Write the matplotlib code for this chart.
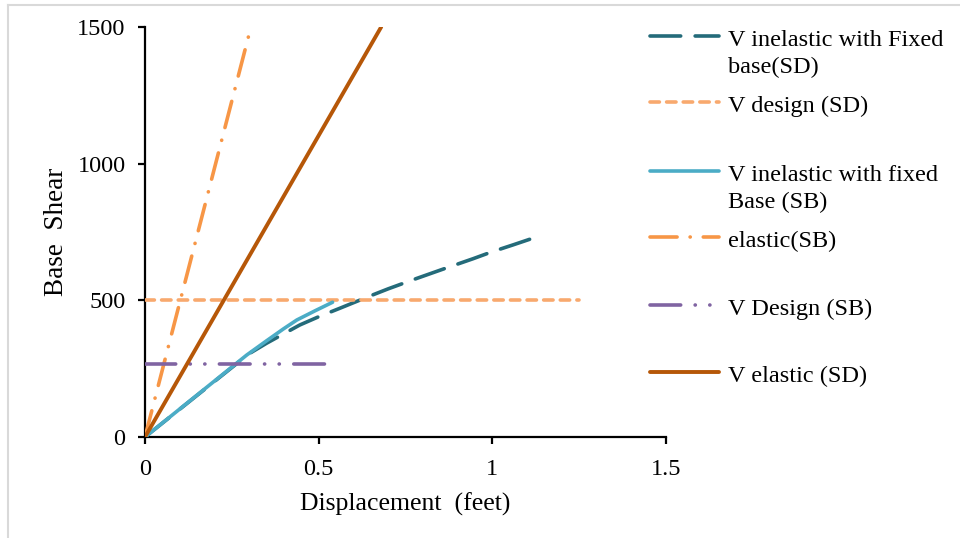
import matplotlib
matplotlib.use("Agg")
import matplotlib.pyplot as plt
from matplotlib.lines import Line2D

plt.rcParams["font.family"] = ["Liberation Serif", "DejaVu Serif"]

# data
fixed_sd_x = [0, 0.30, 0.35, 0.40, 0.446, 0.50, 0.561, 0.648, 0.70, 0.782, 0.86, 0.944, 1.0, 1.06, 1.13]
fixed_sd_y = [0, 305, 343, 378, 410, 440, 471, 516, 542, 580, 615, 652, 678, 703, 733]

design_sd_x = [0, 1.25]
design_sd_y = [500, 500]

fixed_sb_x = [0, 0.167, 0.293, 0.35, 0.398, 0.437, 0.49, 0.54]
fixed_sb_y = [0, 171, 300, 352, 395, 428, 462, 493]

elastic_sb_x = [0, 0.305]
elastic_sb_y = [0, 1500]

design_sb_x = [0, 0.525]
design_sb_y = [267, 267]

elastic_sd_x = [0, 0.68]
elastic_sd_y = [0, 1500]

LW = 2.6
styles = [
    dict(label="V inelastic with Fixed\nbase(SD)", color="#246B7A", lw=LW,
         dashes=(8.5, 4.0), dash_capstyle="round"),
    dict(label="V design (SD)", color="#F8A96E", lw=LW,
         dashes=(2.6, 2.0), dash_capstyle="round"),
    dict(label="V inelastic with fixed\nBase (SB)", color="#4BACC6", lw=LW,
         solid_capstyle="round", solid_joinstyle="round"),
    dict(label="elastic(SB)", color="#F79646", lw=LW,
         dashes=(7.5, 3.6, 0.05, 3.6), dash_capstyle="round"),
    dict(label="V Design (SB)", color="#8064A2", lw=LW,
         dashes=(8.5, 4.0, 0.05, 4.0, 0.05, 4.0), dash_capstyle="round"),
    dict(label="V elastic (SD)", color="#B65708", lw=2.8,
         solid_capstyle="round"),
]
series = [
    (fixed_sd_x, fixed_sd_y),
    (design_sd_x, design_sd_y),
    (fixed_sb_x, fixed_sb_y),
    (elastic_sb_x, elastic_sb_y),
    (design_sb_x, design_sb_y),
    (elastic_sd_x, elastic_sd_y),
]

W, H = 960, 538
fig = plt.figure(figsize=(W / 100, H / 100), dpi=100)
ax = fig.add_axes([145 / W, 1 - 437 / H, (666 - 145) / W, (437 - 27) / H])

draw_order = [1, 4, 0, 2, 5, 3]
for i in draw_order:
    x, y = series[i]
    ax.plot(x, y, **styles[i], zorder=3 + i)

ax.set_xlim(0, 1.5)
ax.set_ylim(0, 1500)
ax.set_xticks([0, 0.5, 1, 1.5])
ax.set_xticklabels(["0", "0.5", "1", "1.5"])
ax.set_yticks([0, 500, 1000, 1500])
for s in ["top", "right"]:
    ax.spines[s].set_visible(False)
for s in ["left", "bottom"]:
    ax.spines[s].set_linewidth(1.6)
ax.tick_params(axis="both", direction="out", length=5, width=1.6,
               labelsize=17.5, colors="black")
ax.tick_params(axis="y", pad=9)
ax.tick_params(axis="x", pad=11)
ax.set_xlabel("Displacement  (feet)", fontsize=18.5, labelpad=9)
ax.set_ylabel("Base  Shear", fontsize=19.5, labelpad=6)

# legend drawn as in the original, with its uneven spacing
handle_y = [36, 102, 171, 237, 305, 372]
for i, hy in enumerate(handle_y):
    st = dict(styles[i])
    label = st.pop("label")
    fy = 1 - hy / H
    fig.add_artist(Line2D([650 / W, 719 / W], [fy, fy], **st))
    for k, line in enumerate(label.split("\n")):
        fig.text(728 / W, 1 - (hy + 10 + 27 * k) / H, line, fontsize=17.5,
                 va="baseline", ha="left")

# light frame at the top and left edge
fig.add_artist(Line2D([8 / W, 8 / W], [0, 1 - 5 / H], color="#D9D9D9", lw=1.5))
fig.add_artist(Line2D([8 / W, 1], [1 - 5 / H, 1 - 5 / H], color="#D9D9D9", lw=1.5))

fig.savefig("out.png", dpi=100)
